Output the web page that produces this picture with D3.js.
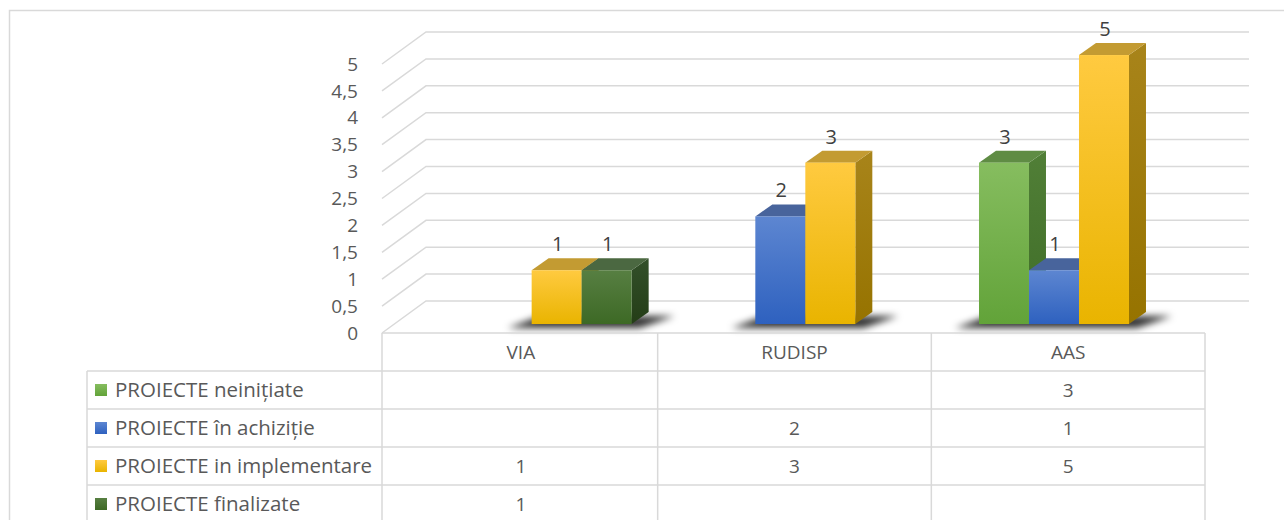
<!DOCTYPE html>
<html>
<head>
<meta charset="utf-8">
<script src="https://cdn.jsdelivr.net/npm/d3@7"></script>
<style>
  html, body { margin: 0; padding: 0; background: #fff; }
  svg { display: block; font-family: "Open Sans", sans-serif; }
</style>
</head>
<body>
<svg id="chart" width="1284" height="520"></svg>
<script>
// ── Data ──────────────────────────────────────────────────────────────────────
const categories   = ['VIA', 'RUDISP', 'AAS'];
const seriesNames  = ['PROIECTE neinițiate', 'PROIECTE în achiziție', 'PROIECTE in implementare', 'PROIECTE finalizate'];
const neinitiate   = [null, null, 3];
const achizitie    = [null, 2, 1];
const implementare = [1, 3, 5];
const finalizate   = [1, null, null];
const yTicks       = [0, 0.5, 1, 1.5, 2, 2.5, 3, 3.5, 4, 4.5, 5];
const yTickLabels  = ['0', '0,5', '1', '1,5', '2', '2,5', '3', '3,5', '4', '4,5', '5'];

const seriesValues = [neinitiate, achizitie, implementare, finalizate];

// ── Colours (front top, front bottom, top face, side top, side bottom) ───────
const palette = [
  { f0: '#86bd5f', f1: '#62a339', top: '#5f8c44', s0: '#517f37', s1: '#3f6d28' },
  { f0: '#5d86d1', f1: '#2e61bf', top: '#48649c', s0: '#36558f', s1: '#284679' },
  { f0: '#ffca40', f1: '#e9b400', top: '#c39b32', s0: '#a8841a', s1: '#967300' },
  { f0: '#577f42', f1: '#3d6925', top: '#4b6841', s0: '#33502a', s1: '#243d17' }
];

// ── Geometry ──────────────────────────────────────────────────────────────────
const svg = d3.select('#chart');
const front = { x0: 384, x1: 1205, yBase: 333 };
const DX = 44, DY = -32;          // floor depth
const barShift = 0.28;            // bar front sits this far into the depth
const bdx = 17, bdy = -12;        // bar depth

const y = d3.scaleLinear().domain([0, 5]).range([front.yBase, 64]);
const x = d3.scaleBand().domain(categories).range([front.x0, front.x1]).paddingInner(0).paddingOuter(0);
const slotW = 50;
const xs = d3.scaleBand().domain(d3.range(4)).range([0, slotW * 4]);

// outer chart border
svg.append('path')
  .attr('d', `M9.5,530V10.5H1290`)
  .attr('fill', 'none').attr('stroke', '#d9d9d9').attr('stroke-width', 1.5);

// defs: gradients + shadow blur
const defs = svg.append('defs');
palette.forEach((c, i) => {
  const g = defs.append('linearGradient').attr('id', 'gf' + i)
    .attr('x1', 0).attr('y1', 0).attr('x2', 0).attr('y2', 1);
  g.append('stop').attr('offset', '0%').attr('stop-color', c.f0);
  g.append('stop').attr('offset', '100%').attr('stop-color', c.f1);
  const s = defs.append('linearGradient').attr('id', 'gs' + i)
    .attr('x1', 0).attr('y1', 0).attr('x2', 0).attr('y2', 1);
  s.append('stop').attr('offset', '0%').attr('stop-color', c.s0);
  s.append('stop').attr('offset', '100%').attr('stop-color', c.s1);
});
defs.append('filter').attr('id', 'blur').attr('x', '-50%').attr('y', '-200%').attr('width', '200%').attr('height', '500%')
  .append('feGaussianBlur').attr('stdDeviation', 3.5);

// ── Gridlines ─────────────────────────────────────────────────────────────────
const grid = svg.append('g').attr('stroke', '#d9d9d9').attr('stroke-width', 1.5).attr('fill', 'none');
yTicks.forEach(t => {
  const yf = y(t);
  grid.append('path')
    .attr('d', `M${front.x0 - 2},${yf}L${front.x0 - 2 + DX},${yf + DY}H${front.x1 + DX}`);
});

// y tick labels
svg.append('g').selectAll('text').data(yTicks).enter().append('text')
  .attr('x', 358).attr('y', d => y(d)).attr('dy', '0.35em')
  .attr('text-anchor', 'end').attr('font-size', 19).attr('fill', '#595959')
  .text((d, i) => yTickLabels[i]);

// ── Bars ──────────────────────────────────────────────────────────────────────
const ox = DX * barShift, oy = DY * barShift;
const barsG = svg.append('g');
const shadowG = barsG.append('g').attr('filter', 'url(#blur)');
const labelsG = svg.append('g');

categories.forEach((cat, ci) => {
  const clusterX = x(cat) + x.bandwidth() / 2 - slotW * 2 + ox - 1.5;
  const baseY = y(0) + oy;
  const used = d3.range(4).filter(si => seriesValues[si][ci] != null);
  if (!used.length) return;
  const lx = clusterX + xs(d3.min(used));
  const rx = clusterX + xs(d3.max(used)) + slotW;
  shadowG.append('path')
    .attr('d', `M${lx - 24},${baseY + 4}L${rx + 8},${baseY + 4}L${rx + bdx + 26},${baseY + bdy + 4}L${lx + bdx - 8},${baseY + bdy + 4}Z`)
    .attr('fill', '#000').attr('opacity', 0.8);

  used.forEach(si => {
    const v = seriesValues[si][ci];
    const x0 = clusterX + xs(si), x1 = x0 + slotW;
    const yt = y(v) + oy;
    const g = barsG.append('g');
    // side
    g.append('path')
      .attr('d', `M${x1},${yt}L${x1 + bdx},${yt + bdy}L${x1 + bdx},${baseY + bdy}L${x1},${baseY}Z`)
      .attr('fill', `url(#gs${si})`);
    // top
    g.append('path')
      .attr('d', `M${x0},${yt}L${x0 + bdx},${yt + bdy}L${x1 + bdx},${yt + bdy}L${x1},${yt}Z`)
      .attr('fill', palette[si].top);
    // front
    g.append('rect')
      .attr('x', x0).attr('y', yt).attr('width', slotW).attr('height', baseY - yt)
      .attr('fill', `url(#gf${si})`);
    // data label
    labelsG.append('text')
      .attr('x', x0 + slotW / 2 + 1).attr('y', yt + bdy - 7)
      .attr('text-anchor', 'middle').attr('font-size', 20).attr('fill', '#404040')
      .text(v);
  });
});

// ── Data table ────────────────────────────────────────────────────────────────
const rowH = 38;
const tableTop = front.yBase;
const rowTop = i => tableTop + rowH * (i + 1);
const legendX0 = 87;
const tbl = svg.append('g').attr('stroke', '#d9d9d9').attr('stroke-width', 1.5).attr('fill', 'none');
// header top (the floor front edge)
tbl.append('path').attr('d', `M${front.x0 - 2},${tableTop}H${front.x1}`);
seriesNames.forEach((s, i) => {
  tbl.append('path').attr('d', `M${legendX0},${rowTop(i)}H${front.x1}`);
});
// vertical lines
tbl.append('path').attr('d', `M${legendX0},${rowTop(0)}V530`);
tbl.append('path').attr('d', `M${front.x0 - 2},${tableTop}V530`);
categories.forEach(cat => {
  const xr = x(cat) + x.bandwidth();
  tbl.append('path').attr('d', `M${xr},${tableTop}V530`);
});

// category header
svg.append('g').selectAll('text').data(categories).enter().append('text')
  .attr('x', d => x(d) + x.bandwidth() / 2).attr('y', tableTop + rowH / 2).attr('dy', '0.35em')
  .attr('text-anchor', 'middle').attr('font-size', 19).attr('fill', '#595959')
  .text(d => d);

// legend keys + names + values
const rows = svg.append('g');
seriesNames.forEach((name, si) => {
  const cy = rowTop(si) + rowH / 2;
  rows.append('rect')
    .attr('x', 95).attr('y', cy - 6).attr('width', 12).attr('height', 12)
    .attr('fill', `url(#gf${si})`);
  rows.append('text')
    .attr('x', 115).attr('y', cy).attr('dy', '0.35em')
    .attr('font-size', 20.5).attr('fill', '#595959')
    .text(name);
  categories.forEach((cat, ci) => {
    const v = seriesValues[si][ci];
    if (v == null) return;
    rows.append('text')
      .attr('x', x(cat) + x.bandwidth() / 2).attr('y', cy).attr('dy', '0.35em')
      .attr('text-anchor', 'middle').attr('font-size', 19).attr('fill', '#595959')
      .text(v);
  });
});
</script>
</body>
</html>
